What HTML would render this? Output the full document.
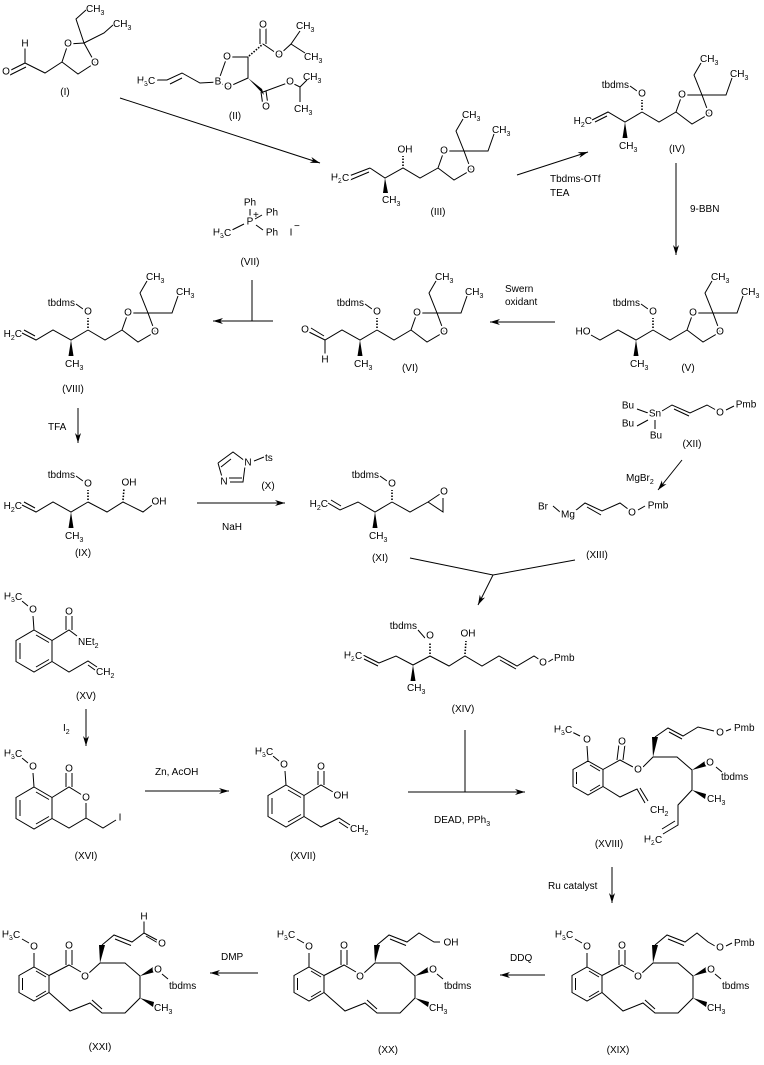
<!DOCTYPE html>
<html><head><meta charset="utf-8"><style>
html,body{margin:0;padding:0;background:#fff}
svg{display:block}
path,line{stroke:#000;stroke-width:1;fill:none}
.w{fill:#000;stroke:none}
.h{stroke-dasharray:1.5,1.5;stroke-width:1.6}
text{font-family:"Liberation Sans",Arial,sans-serif;font-size:10px;fill:#000}
.a{text-anchor:middle;dominant-baseline:central;paint-order:stroke;stroke:#fff;stroke-width:4px}
.m{text-anchor:middle}
.e{text-anchor:end}
</style></head><body>
<svg width="764" height="1065" viewBox="0 0 764 1065" xmlns="http://www.w3.org/2000/svg">
<defs><marker id="ar" markerUnits="userSpaceOnUse" markerWidth="12" markerHeight="8" refX="10" refY="3" orient="auto"><path d="M0,0 L10,3 L0,6 L3,3 Z" style="fill:#000;stroke:none"/></marker></defs>

<!-- (I) -->
<path d="M25,63 L45,73 L62,62 M62,62 L68,44 L84,43 L95,63 L78,74 Z M84,43 L76,19 L86,10 M84,43 L104,33 L113,25 M25,63 L25,48 M9,71 L25,63 M10,75 L26,67"/>
<text class="a" x="25" y="44">H</text><text class="a" x="6" y="72">O</text>
<text class="a" x="68" y="44">O</text><text class="a" x="95" y="63">O</text>
<text x="86" y="12">CH<tspan dy="3" font-size="7">3</tspan></text>
<text x="113" y="27">CH<tspan dy="3" font-size="7">3</tspan></text>
<text class="m" x="65" y="95">(I)</text>

<!-- (II) -->
<path d="M157,80 L167,80 L182,73 L200,83 L218,82 M170,84 L182,78 M218,82 L227,57 L248,57 L248,78 L228,87 Z M263,44 L279,55 L291,44 L300,31 M291,44 L305,53 M260,44 L260,27 M266,44 L266,27 M263,92 L290,82 L300,87 L307,80 M300,87 L300,102 M261,92 L263,106 M266,91 L268,105"/>
<path class="h" d="M249,56 L263,44"/>
<polygon class="w" points="248,78 262,89 264,95"/>
<text class="a" x="146" y="81">H<tspan dy="3" font-size="7">3</tspan><tspan dy="-3">C</tspan></text>
<text class="a" x="218" y="82">B</text><text class="a" x="227" y="57">O</text><text class="a" x="228" y="87">O</text>
<text class="a" x="263" y="25">O</text><text class="a" x="279" y="55">O</text><text class="a" x="290" y="82">O</text><text class="a" x="266" y="107">O</text>
<text x="296" y="29">CH<tspan dy="3" font-size="7">3</tspan></text>
<text x="304" y="60">CH<tspan dy="3" font-size="7">3</tspan></text>
<text x="303" y="80">CH<tspan dy="3" font-size="7">3</tspan></text>
<text x="294" y="112">CH<tspan dy="3" font-size="7">3</tspan></text>
<text class="m" x="235" y="119">(II)</text>

<!-- (III) -->
<path d="M349,176 L370,168 M350,180 L369,172 M370,168 L385,178 L403,168 L420,178 L438,168 M438,168 L444,151 L464,151 L471,170 L454,180 Z M464,151 L456,131 L463,119 M464,151 L488,151 L494,134"/>
<path class="h" d="M403,166 L403,156"/>
<polygon class="w" points="385,178 383,193 388,193"/>
<text class="a" x="340" y="178">H<tspan dy="3" font-size="7">2</tspan><tspan dy="-3">C</tspan></text>
<text class="a" x="405" y="150">OH</text>
<text class="a" x="444" y="151">O</text><text class="a" x="471" y="170">O</text>
<text x="462" y="118">CH<tspan dy="3" font-size="7">3</tspan></text>
<text x="492" y="133">CH<tspan dy="3" font-size="7">3</tspan></text>
<text x="382" y="203">CH<tspan dy="3" font-size="7">3</tspan></text>
<text class="m" x="438" y="215">(III)</text>

<!-- IV -->
<g transform="translate(642,112)">
<path d="M0,0 L17,10 L34,0 M34,0 L40,-17 L60,-17 L67,2 L50,12 Z M60,-17 L52,-37 L59,-49 M60,-17 L84,-17 L90,-34 M-5,-21 L-12,-26 M0,0 L-17,10 L-34,0 L-50,8 M-35,4 L-47,10"/>
<path class="h" d="M0,-2 L0,-12"/><polygon class="w" points="-17,10 -19.5,26 -14.5,26"/>
<text x="58" y="-50">CH<tspan dy="3" font-size="7">3</tspan></text><text x="88" y="-35">CH<tspan dy="3" font-size="7">3</tspan></text>
<text x="-23" y="37">CH<tspan dy="3" font-size="7">3</tspan></text>
<text class="e" x="-13" y="-24">tbdms</text>
<text class="e" x="-50" y="12">H<tspan dy="3" font-size="7">2</tspan><tspan dy="-3">C</tspan></text>
<text class="a" x="0" y="-18">O</text><text class="a" x="40" y="-17">O</text><text class="a" x="67" y="2">O</text>
</g>
<text class="m" x="677" y="152">(IV)</text>

<!-- V -->
<g transform="translate(653,330)">
<path d="M0,0 L17,10 L34,0 M34,0 L40,-17 L60,-17 L67,2 L50,12 Z M60,-17 L52,-37 L59,-49 M60,-17 L84,-17 L90,-34 M-5,-21 L-12,-26 M0,0 L-17,10 L-35,0 L-53,10 L-62,5"/>
<path class="h" d="M0,-2 L0,-12"/><polygon class="w" points="-17,10 -19.5,26 -14.5,26"/>
<text x="58" y="-50">CH<tspan dy="3" font-size="7">3</tspan></text><text x="88" y="-35">CH<tspan dy="3" font-size="7">3</tspan></text>
<text x="-23" y="37">CH<tspan dy="3" font-size="7">3</tspan></text>
<text class="e" x="-13" y="-24">tbdms</text>
<text class="a" x="-70" y="2">HO</text>
<text class="a" x="0" y="-18">O</text><text class="a" x="40" y="-17">O</text><text class="a" x="67" y="2">O</text>
</g>
<text class="m" x="688" y="371">(V)</text>

<!-- VI -->
<g transform="translate(377,330)">
<path d="M0,0 L17,10 L34,0 M34,0 L40,-17 L60,-17 L67,2 L50,12 Z M60,-17 L52,-37 L59,-49 M60,-17 L84,-17 L90,-34 M-5,-21 L-12,-26 M0,0 L-17,10 L-35,0 L-52,10 L-68,2 M-53,6 L-66,-2 M-52,10 L-52,24"/>
<path class="h" d="M0,-2 L0,-12"/><polygon class="w" points="-17,10 -19.5,26 -14.5,26"/>
<text x="58" y="-50">CH<tspan dy="3" font-size="7">3</tspan></text><text x="88" y="-35">CH<tspan dy="3" font-size="7">3</tspan></text>
<text x="-23" y="37">CH<tspan dy="3" font-size="7">3</tspan></text>
<text class="e" x="-13" y="-24">tbdms</text>
<text class="a" x="-72" y="0">O</text><text class="a" x="-52" y="30">H</text>
<text class="a" x="0" y="-18">O</text><text class="a" x="40" y="-17">O</text><text class="a" x="67" y="2">O</text>
</g>
<text class="m" x="410" y="371">(VI)</text>

<!-- VII -->
<path d="M250,209 L250,216 M255,219 L262,215 M244,224 L232,230 M256,225 L263,230"/>
<text class="a" x="250" y="203">Ph</text><text class="a" x="250" y="222">P</text>
<text x="253" y="218" font-size="7">+</text>
<text class="a" x="272" y="213">Ph</text><text class="a" x="272" y="233">Ph</text>
<text class="a" x="222" y="233">H<tspan dy="3" font-size="7">3</tspan><tspan dy="-3">C</tspan></text>
<text class="a" x="291" y="233">I</text><text x="294" y="229" font-size="9">−</text>
<text class="m" x="250" y="265">(VII)</text>

<!-- VIII -->
<g transform="translate(88,330)">
<path d="M0,0 L17,10 L34,0 M34,0 L40,-17 L60,-17 L67,2 L50,12 Z M60,-17 L52,-37 L59,-49 M60,-17 L84,-17 L90,-34 M-5,-21 L-12,-26 M0,0 L-17,10 L-35,0 L-52,10 L-66,3 M-53,6 L-64,0"/>
<path class="h" d="M0,-2 L0,-12"/><polygon class="w" points="-17,10 -19.5,26 -14.5,26"/>
<text x="58" y="-50">CH<tspan dy="3" font-size="7">3</tspan></text><text x="88" y="-35">CH<tspan dy="3" font-size="7">3</tspan></text>
<text x="-23" y="37">CH<tspan dy="3" font-size="7">3</tspan></text>
<text class="e" x="-13" y="-24">tbdms</text>
<text class="e" x="-66" y="7">H<tspan dy="3" font-size="7">2</tspan><tspan dy="-3">C</tspan></text>
<text class="a" x="0" y="-18">O</text><text class="a" x="40" y="-17">O</text><text class="a" x="67" y="2">O</text>
</g>
<text class="m" x="73" y="392">(VIII)</text>

<!-- IX -->
<g transform="translate(88,502)">
<path d="M0,0 L19,10 L35,0 L55,10 L64,3 M-5,-21 L-12,-26 M0,0 L-17,10 L-35,0 L-52,10 L-66,3 M-53,6 L-64,0"/>
<path class="h" d="M0,-2 L0,-12 M35,-2 L36,-13"/><polygon class="w" points="-17,10 -19.5,26 -14.5,26"/>
<text x="-23" y="37">CH<tspan dy="3" font-size="7">3</tspan></text>
<text class="e" x="-13" y="-24">tbdms</text>
<text class="e" x="-66" y="7">H<tspan dy="3" font-size="7">2</tspan><tspan dy="-3">C</tspan></text>
<text class="a" x="0" y="-18">O</text><text class="a" x="41" y="-19">OH</text><text class="a" x="71" y="0">OH</text>
</g>
<text class="m" x="83" y="556">(IX)</text>

<!-- X -->
<path d="M218,463 L233,452 L245,461 M245,466 L243,482 L230,482 M218,463 L222,477 M221,467 L231,459 M229,478 L242,478 M254,461 L264,457"/>
<text class="a" x="248" y="463">N</text><text class="a" x="224" y="482">N</text>
<text x="265" y="461">ts</text>
<text class="m" x="268" y="489">(X)</text>

<!-- XI -->
<g transform="translate(392,502)">
<path d="M0,0 L18,10 L36,0 L51,-10 M36,0 L51,10 L51,-4 M-5,-21 L-12,-26 M0,0 L-17,10 L-34,0 L-52,8 L-64,1 M-51,4 L-61,-2"/>
<path class="h" d="M0,-2 L0,-12"/><polygon class="w" points="-17,10 -19.5,26 -14.5,26"/>
<text x="-23" y="37">CH<tspan dy="3" font-size="7">3</tspan></text>
<text class="e" x="-13" y="-24">tbdms</text>
<text class="e" x="-64" y="5">H<tspan dy="3" font-size="7">2</tspan><tspan dy="-3">C</tspan></text>
<text class="a" x="0" y="-18">O</text><text class="a" x="52" y="-10">O</text>
</g>
<text class="m" x="380" y="561">(XI)</text>

<!-- XII -->
<path d="M637,409 L648,413 M637,426 L648,420 M655,420 L655,429 M662,411 L672,405 L690,413 L707,405 L716,410 M674,409 L689,416 M726,410 L734,406"/>
<text class="a" x="628" y="406">Bu</text><text class="a" x="655" y="414">Sn</text><text class="a" x="628" y="424">Bu</text><text class="a" x="656" y="436">Bu</text>
<text class="a" x="720" y="413">O</text><text class="a" x="746" y="405">Pmb</text>
<text class="m" x="692" y="447">(XII)</text>
<text x="626" y="481">MgBr<tspan dy="3" font-size="7">2</tspan></text>

<!-- XIII -->
<path d="M553,506 L560,512 M575,511 L585,503 L602,511 L620,503 L628,509 M587,507 L601,515 M638,510 L645,506"/>
<text class="a" x="543" y="507">Br</text><text class="a" x="568" y="515">Mg</text>
<text class="a" x="632" y="513">O</text><text class="a" x="658" y="506">Pmb</text>
<text class="m" x="597" y="558">(XIII)</text>

<!-- XIV -->
<path d="M363,655 L379,663 M364,659 L378,666 M379,663 L396,656 L413,665 L430,656 L449,666 L465,656 L482,666 L499,656 L517,666 L534,656 L540,660 M500,660 L516,669 M425,638 L418,630 M548,662 L553,659"/>
<path class="h" d="M430,654 L430,642 M465,654 L466,641"/><polygon class="w" points="413,665 410.5,681 415.5,681"/>
<text class="a" x="353" y="656">H<tspan dy="3" font-size="7">2</tspan><tspan dy="-3">C</tspan></text>
<text class="e" x="417" y="629">tbdms</text>
<text class="a" x="430" y="636">O</text><text class="a" x="468" y="634">OH</text>
<text x="407" y="691">CH<tspan dy="3" font-size="7">3</tspan></text>
<text class="a" x="543" y="663">O</text><text x="554" y="661">Pmb</text>
<text class="m" x="463" y="712">(XIV)</text>

<!-- XV -->
<path d="M34,630 L52,640.5 L52,661.5 L34,672 L16,661.5 L16,640.5 Z M20,643 L20,659 M36,667 L49,659.5 M36,635 L49,642.5 M34,630 L33,616 M52,640.5 L69,630 L77,636 M66,630 L66,616 M72,630 L72,616 M52,661.5 L69,672 L88,661 L97,667 M88,665 L95,670 M28,606 L22,601"/>
<text class="a" x="33" y="610">O</text><text class="a" x="69" y="612">O</text>
<text class="a" x="13" y="597">H<tspan dy="3" font-size="7">3</tspan><tspan dy="-3">C</tspan></text>
<text x="78" y="645">NEt<tspan dy="3" font-size="7">2</tspan></text>
<text x="96" y="675">CH<tspan dy="3" font-size="7">2</tspan></text>
<text class="m" x="86" y="699">(XV)</text>

<!-- XVI -->
<path d="M34,787 L52,797.5 L52,818.5 L34,829 L16,818.5 L16,797.5 Z M20,800 L20,816 M36,824 L49,816.5 M36,792 L49,799.5 M34,787 L33,773 M52,797.5 L69,787 L82,795 M66,787 L66,773 M72,787 L72,773 M86,803 L86,818 L69,828 L52,818.5 M86,818 L103,828 L116,820 M28,763 L22,758"/>
<text class="a" x="33" y="767">O</text><text class="a" x="69" y="769">O</text><text class="a" x="86" y="798">O</text>
<text class="a" x="13" y="754">H<tspan dy="3" font-size="7">3</tspan><tspan dy="-3">C</tspan></text>
<text class="a" x="120" y="818">I</text>
<text class="m" x="86" y="859">(XVI)</text>

<!-- XVII -->
<path d="M286,785 L304,795.5 L304,816.5 L286,827 L268,816.5 L268,795.5 Z M272,798 L272,814 M288,822 L301,814.5 M288,790 L301,797.5 M286,785 L285,771 M304,795.5 L321,785 L333,792 M318,785 L318,771 M324,785 L324,771 M304,816.5 L321,827 L339,818 L350,825 M339,822 L348,828 M279,761 L273,756"/>
<text class="a" x="284" y="765">O</text><text class="a" x="321" y="767">O</text><text class="a" x="341" y="796">OH</text>
<text class="a" x="264" y="752">H<tspan dy="3" font-size="7">3</tspan><tspan dy="-3">C</tspan></text>
<text x="350" y="832">CH<tspan dy="3" font-size="7">2</tspan></text>
<text class="m" x="303" y="859">(XVII)</text>

<!-- XVIII -->
<path d="M588,761 L603,769.5 L603,786.5 L588,795 L573,786.5 L573,769.5 Z M576.5,772 L576.5,784 M590,791 L600,785 M590,765 L600,771 M588,761 L587,746 M603,769.5 L620,760 L633,767 M617,760 L619,744 M623,760 L625,744 M643,767 L653,757 L677,757 L692,770 L692,790 L678,805 L678,825 L663,834 M675,821 L662,829 M655,737 L668,728 L683,736 L698,727 L714,731 M669,732 L682,739 M603,786.5 L620,797 L637,789 L645,803 M640,788 L648,801 M580,736 L572,732 M716,767 L722,772 M726,731 L731,729"/>
<polygon class="w" points="653,757 652,737 658,737"/>
<polygon class="w" points="692,770 705,761 707,766"/>
<polygon class="w" points="692,790 706,794 705,799"/>
<text class="a" x="587" y="740">O</text><text class="a" x="622" y="742">O</text><text class="a" x="638" y="770">O</text>
<text class="a" x="710" y="763">O</text><text class="a" x="720" y="733">O</text>
<text x="734" y="731">Pmb</text><text x="721" y="780">tbdms</text>
<text x="707" y="802">CH<tspan dy="3" font-size="7">3</tspan></text>
<text x="650" y="813">CH<tspan dy="3" font-size="7">2</tspan></text>
<text class="a" x="653" y="840">H<tspan dy="3" font-size="7">2</tspan><tspan dy="-3">C</tspan></text>
<text class="a" x="563" y="730">H<tspan dy="3" font-size="7">3</tspan><tspan dy="-3">C</tspan></text>
<text class="m" x="609" y="847">(XVIII)</text>

<!-- XIX -->
<g>
<path d="M587,967 L602,975.5 L602,992.5 L587,1001 L572,992.5 L572,975.5 Z M575.5,978 L575.5,990 M589,997 L599,991 M589,971 L599,977 M587,967 L587,953 M602,975.5 L622,965 L634,972 M619,965 L619,950 M625,965 L625,950 M642,973 L653,963 L678,963 L693,976 L693,998 L678,1013 L655,1013 L643,1003 L623,1011 L602,992.5 M655,1009 L645,1000 M582,943 L575,939 M715,974 L721,979 M655,945 L667,935 L685,942 L697,933 L708,942 L715,946 M668,939 L684,945.5 M726,946 L732,943"/>
<polygon class="w" points="653,963 652,945 658,945"/>
<polygon class="w" points="693,976 706,967 708,972"/>
<polygon class="w" points="693,998 707,1002 706,1007"/>
<text class="a" x="587" y="947">O</text><text class="a" x="622" y="946">O</text><text class="a" x="638" y="977">O</text>
<text class="a" x="711" y="970">O</text><text class="a" x="720" y="948">O</text>
<text x="734" y="946">Pmb</text><text x="722" y="989">tbdms</text>
<text x="707" y="1011">CH<tspan dy="3" font-size="7">3</tspan></text>
<text class="a" x="564" y="935">H<tspan dy="3" font-size="7">3</tspan><tspan dy="-3">C</tspan></text>
</g>
<text class="m" x="618" y="1053">(XIX)</text>

<g transform="translate(-278,0)">
<path d="M587,967 L602,975.5 L602,992.5 L587,1001 L572,992.5 L572,975.5 Z M575.5,978 L575.5,990 M589,997 L599,991 M589,971 L599,977 M587,967 L587,953 M602,975.5 L622,965 L634,972 M619,965 L619,950 M625,965 L625,950 M642,973 L653,963 L678,963 L693,976 L693,998 L678,1013 L655,1013 L643,1003 L623,1011 L602,992.5 M655,1009 L645,1000 M582,943 L575,939 M715,974 L721,979 M655,945 L667,935 L685,942 L697,933 L712,942 L718,942 M668,939 L684,945.5"/>
<polygon class="w" points="653,963 652,945 658,945"/>
<polygon class="w" points="693,976 706,967 708,972"/>
<polygon class="w" points="693,998 707,1002 706,1007"/>
<text class="a" x="587" y="947">O</text><text class="a" x="622" y="946">O</text><text class="a" x="638" y="977">O</text>
<text class="a" x="711" y="970">O</text><text class="a" x="729" y="943">OH</text>
<text x="722" y="989">tbdms</text>
<text x="707" y="1011">CH<tspan dy="3" font-size="7">3</tspan></text>
<text class="a" x="564" y="935">H<tspan dy="3" font-size="7">3</tspan><tspan dy="-3">C</tspan></text>
</g>
<text class="m" x="388" y="1053">(XX)</text>

<g transform="translate(-553,0)">
<path d="M587,967 L602,975.5 L602,992.5 L587,1001 L572,992.5 L572,975.5 Z M575.5,978 L575.5,990 M589,997 L599,991 M589,971 L599,977 M587,967 L587,953 M602,975.5 L622,965 L634,972 M619,965 L619,950 M625,965 L625,950 M642,973 L653,963 L678,963 L693,976 L693,998 L678,1013 L655,1013 L643,1003 L623,1011 L602,992.5 M655,1009 L645,1000 M582,943 L575,939 M715,974 L721,979 M655,945 L667,935 L685,942 L697,933 L710,940 M668,939 L684,945.5 M699,936 L711,943 M697,933 L697,921"/>
<polygon class="w" points="653,963 652,945 658,945"/>
<polygon class="w" points="693,976 706,967 708,972"/>
<polygon class="w" points="693,998 707,1002 706,1007"/>
<text class="a" x="587" y="947">O</text><text class="a" x="622" y="946">O</text><text class="a" x="638" y="977">O</text>
<text class="a" x="711" y="970">O</text><text class="a" x="715" y="944">O</text><text class="a" x="697" y="917">H</text>
<text x="722" y="989">tbdms</text>
<text x="707" y="1011">CH<tspan dy="3" font-size="7">3</tspan></text>
<text class="a" x="564" y="935">H<tspan dy="3" font-size="7">3</tspan><tspan dy="-3">C</tspan></text>
</g>
<text class="m" x="100" y="1050">(XXI)</text>

<!-- arrows -->
<g marker-end="url(#ar)">
<line x1="120" y1="98" x2="320" y2="163"/>
<line x1="517" y1="175" x2="588" y2="152"/>
<line x1="676" y1="163" x2="676" y2="255"/>
<line x1="555" y1="322" x2="490" y2="322"/>
<line x1="273" y1="321" x2="213" y2="321"/>
<line x1="78" y1="408" x2="78" y2="443"/>
<line x1="197" y1="503" x2="285" y2="503"/>
<line x1="682" y1="460" x2="658" y2="490"/>
<line x1="493" y1="575" x2="478" y2="605"/>
<line x1="86" y1="709" x2="86" y2="746"/>
<line x1="145" y1="791" x2="229" y2="791"/>
<line x1="408" y1="792" x2="525" y2="792"/>
<line x1="612" y1="867" x2="612" y2="903"/>
<line x1="545" y1="975" x2="500" y2="975"/>
<line x1="258" y1="973" x2="210" y2="973"/>
</g>
<path d="M252,280 L252,321 M410,558 L493,575 L575,560 M465,730 L465,792"/>

<!-- reagents -->
<text x="550" y="182">Tbdms-OTf</text><text x="550" y="196">TEA</text>
<text x="690" y="212">9-BBN</text>
<text x="505" y="292">Swern</text><text x="505" y="305">oxidant</text>
<text x="48" y="430">TFA</text>
<text x="222" y="530">NaH</text>
<text x="63" y="731">I<tspan dy="3" font-size="7">2</tspan></text>
<text x="155" y="775">Zn,  AcOH</text>
<text x="434" y="823">DEAD, PPh<tspan dy="3" font-size="7">3</tspan></text>
<text x="548" y="889">Ru catalyst</text>
<text x="510" y="961">DDQ</text>
<text x="221" y="960">DMP</text>
</svg>
</body></html>
